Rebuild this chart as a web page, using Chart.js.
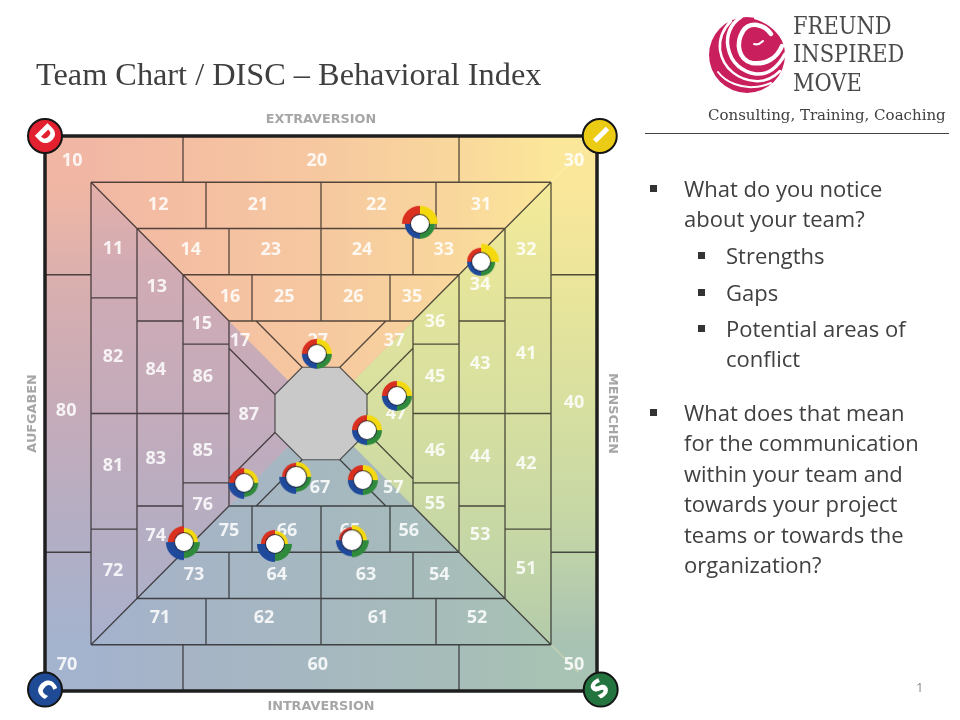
<!DOCTYPE html>
<html>
<head>
<meta charset="utf-8">
<title>Team Chart / DISC</title>
<script src="https://cdn.jsdelivr.net/npm/chart.js@4/dist/chart.umd.min.js"></script>
<style>
    html, body { margin: 0; padding: 0; background: #fff; }
    #page { position: relative; width: 960px; height: 720px; overflow: hidden; }
    #discChart { position: absolute; left: 0; top: 0; }
    .txt { position: absolute; white-space: nowrap; color: #404040; }
    #title { left: 36px; top: 54px; font: 32.3px/40px "Liberation Serif", serif; color: #3f3f3f; }
    .logo { left: 793px; font: 24px/28px "DejaVu Serif", serif; color: #4a4a4a; transform: scaleX(0.875); transform-origin: left center; }
    #tagline { left: 708px; top: 105px; font: 15px/20px "DejaVu Serif", serif; }
    #rule { position: absolute; left: 645px; top: 133px; width: 304px; height: 1px; background: #444; }
    .b { font: 22px/30px "Open Sans", sans-serif; }
    .sq { position: absolute; width: 7px; height: 7px; background: #333; }
    #pageNo { left: 916px; top: 679px; font: 13px/16px "Open Sans", sans-serif; color: #8c8c8c; }
    #logoMark { position: absolute; left: 700px; top: 8px; }
</style>
</head>
<body>
<div id="page">
    <canvas id="discChart" width="960" height="720"></canvas>
    <div class="txt" id="title">Team Chart / DISC – Behavioral Index</div>
    <svg id="logoMark" width="95" height="95" viewBox="700 8 95 95">
        <circle cx="747" cy="55" r="38" fill="#c91f5d"/>
        <path d="M754 14 L792 14 L792 52 L786 52 C784 38 772 24 754 19 Z" fill="#fff"/>
        <g fill="none" stroke="#fff" stroke-linecap="round">
            <path d="M771 34 C764 24 750 21 743 31 C735 44 739 60 752 63 C766 65 777 58 782 46" stroke-width="4.5"/>
            <path d="M741 17 C730 24 726 36 728 47 C731 64 743 72 756 74 C768 75 778 67 785 54" stroke-width="3.5"/>
            <path d="M731 21 C722 30 719 40 720 50 C723 70 740 80 755 81 C765 82 773 78 780 71" stroke-width="2.5"/>
            <path d="M718 72 C726 83 742 88 754 87 C760 87 766 85 771 83" stroke-width="2"/>
            <path d="M763 41 C760 44 757 45 754 44" stroke-width="2"/>
        </g>
    </svg>
    <div class="txt logo" style="top:12px">FREUND</div>
    <div class="txt logo" style="top:40px">INSPIRED</div>
    <div class="txt logo" style="top:69px">MOVE</div>
    <div class="txt" id="tagline">Consulting, Training, Coaching</div>
    <div id="rule"></div>

    <div class="sq" style="left:650px;top:185px"></div>
    <div class="txt b" style="left:684px;top:173px">What do you notice</div>
    <div class="txt b" style="left:684px;top:203px">about your team?</div>
    <div class="sq" style="left:698px;top:252px"></div>
    <div class="txt b" style="left:726px;top:240px">Strengths</div>
    <div class="sq" style="left:698px;top:289px"></div>
    <div class="txt b" style="left:726px;top:277px">Gaps</div>
    <div class="sq" style="left:698px;top:325px"></div>
    <div class="txt b" style="left:726px;top:313px">Potential areas of</div>
    <div class="txt b" style="left:726px;top:343px">conflict</div>
    <div class="sq" style="left:650px;top:409px"></div>
    <div class="txt b" style="left:684px;top:397px">What does that mean</div>
    <div class="txt b" style="left:684px;top:427px">for the communication</div>
    <div class="txt b" style="left:684px;top:458px">within your team and</div>
    <div class="txt b" style="left:684px;top:488px">towards your project</div>
    <div class="txt b" style="left:684px;top:519px">teams or towards the</div>
    <div class="txt b" style="left:684px;top:549px">organization?</div>
    <div class="txt" id="pageNo">1</div>
</div>

<script>
// cell numbers and where they sit on the -6..6 grid
const cellLabels = ['10','20','30','12','21','22','31','11','14','23','24','33','32','13','34','16','25','26','35','36','15','17','27','37','82','84','43','41','86','45','40','80','87','47','46','85','44','83','81','42','67','77','57','55','76','53','75','66','65','56','74','72','51','73','64','63','54','71','62','61','52','70','60','50'];
const cellX = [-5.41,-0.09,5.50,-3.54,-1.37,1.20,3.48,-4.52,-2.83,-1.09,0.89,2.67,4.46,-3.57,3.46,-1.98,-0.80,0.70,1.98,2.48,-2.59,-1.76,-0.07,1.59,-4.52,-3.59,3.46,4.46,-2.57,2.48,5.50,-5.54,-1.57,1.63,2.48,-2.57,3.46,-3.59,-4.52,4.46,-0.02,-0.57,1.57,2.48,-2.57,3.46,-2.00,-0.74,0.63,1.91,-3.59,-4.52,4.46,-2.76,-0.96,0.98,2.57,-3.50,-1.24,1.24,3.39,-5.52,-0.07,5.50];
const cellY = [5.46,5.46,5.46,4.51,4.51,4.51,4.51,3.56,3.54,3.54,3.54,3.54,3.54,2.74,2.78,2.52,2.52,2.52,2.52,1.98,1.94,1.57,1.57,1.57,1.22,0.94,1.07,1.29,0.79,0.79,0.23,0.05,-0.03,-0.01,-0.81,-0.81,-0.94,-0.98,-1.14,-1.09,-1.61,-1.42,-1.61,-1.96,-1.98,-2.63,-2.54,-2.54,-2.54,-2.54,-2.65,-3.41,-3.36,-3.49,-3.49,-3.49,-3.49,-4.42,-4.42,-4.42,-4.42,-5.44,-5.44,-5.44];

// team members: position and the four DISC scores (shown as ring thickness)
const teamX = [2.15,3.48,-0.09,1.65,1.00,0.91,-1.67,-0.54,-1.00,0.67,-2.98];
const teamY = [4.10,3.28,1.29,0.38,-0.36,-1.44,-1.50,-1.37,-2.82,-2.74,-2.78];
const teamD = [18,14,15,15,15,15,15,14,14,13,16];
const teamI = [18,18,15,15,15,15,14,15,13,15,14];
const teamS = [15,14,15,15,15,15,14,15,17,17,16];
const teamC = [15,14,15,15,15,15,16,17,18,16,18];
const teamHole = [9,9,9,9,9,9,9,10,9,10,9];

const cornerLetters = ['D','I','C','S'];
const cornerX = [-6, 6.06, -6, 6.08];
const cornerY = [6, 6, -5.97, -5.97];
const cornerColors = ['#e3202f','#eccb14','#1f4a96','#24743f'];
const cornerAngles = [45,45,45,-45];

// grid lines as x1,y1,x2,y2
const gridLines = [
    [-5,5,5,5],[5,5,5,-5],[5,-5,-5,-5],[-5,-5,-5,5],
    [-3,6,-3,5],[3,6,3,5],[-3,-6,-3,-5],[3,-6,3,-5],
    [-6,3,-5,3],[-6,-3,-5,-3],[5,3,6,3],[5,-3,6,-3],
    [-4,4,4,4],[-3,3,3,3],[-2,2,2,2],[-4,-4,4,-4],[-3,-3,3,-3],[-2,-2,2,-2],
    [-4,4,-4,-4],[-3,3,-3,-3],[-2,2,-2,-2],[4,4,4,-4],[3,3,3,-3],[2,2,2,-2],
    [-2.5,5,-2.5,4],[0,5,0,4],[2.5,5,2.5,4],[-2,4,-2,3],[0,4,0,3],[2,4,2,3],[-1.5,3,-1.5,2],[0,3,0,2],[1.5,3,1.5,2],
    [-2.5,-5,-2.5,-4],[0,-5,0,-4],[2.5,-5,2.5,-4],[-2,-4,-2,-3],[0,-4,0,-3],[2,-4,2,-3],[-1.5,-3,-1.5,-2],[0,-3,0,-2],[1.5,-3,1.5,-2],
    [-5,2.5,-4,2.5],[-5,0,-4,0],[-5,-2.5,-4,-2.5],[-4,2,-3,2],[-4,0,-3,0],[-4,-2,-3,-2],[-3,1.5,-2,1.5],[-3,0,-2,0],[-3,-1.5,-2,-1.5],
    [4,2.5,5,2.5],[4,0,5,0],[4,-2.5,5,-2.5],[3,2,4,2],[3,0,4,0],[3,-2,4,-2],[2,1.5,3,1.5],[2,0,3,0],[2,-1.5,3,-1.5],
    [-5,5,-2,2],[5,5,2,2],[-5,-5,-2,-2],[5,-5,2,-2],
    [-1.41,2,-0.41,1],[1.41,2,0.41,1],[-2,1.41,-1,0.41],[2,1.41,1,0.41],
    [-1.41,-2,-0.41,-1],[1.41,-2,0.41,-1],[-2,-1.41,-1,-0.41],[2,-1.41,1,-0.41]
];

const octagon = [[-0.41,1],[0.41,1],[1,0.41],[1,-0.41],[0.41,-1],[-0.41,-1],[-1,-0.41],[-1,0.41],[-0.41,1]];
const frame = [[-6,6],[6,6],[6,-6],[-6,-6],[-6,6]];

const topColors = ['#f0b4a5','#f4bea2','#f6c8a0','#f9d89c','#fdee98'];
const leftColors = ['#eeb2a4','#d0abb4','#c3abbb','#b3aec4','#a3b2d2'];
const rightColors = ['#fdee98','#e6e59b','#d6dfa0','#c4d6a6','#abc5ad'];
const bottomColors = ['#a3b2d2','#a6b4c6','#a5b8c0','#a7bdb9','#a8c5b0'];
const leftRingColors = ['#f1b7a4','#d6aeb0','#c5abb9','#b3aec4','#a4b3ce'];
const rightRingColors = ['#fbe79a','#e8e59b','#d6dfa0','#c4d6a6','#a8c2b3'];

const toPoints = list => list.map(p => ({ x: p[0], y: p[1] }));

function gradientFill(x0, y0, x1, y1, colors) {
    return ctx => {
        const chart = ctx.chart;
        if (!chart.chartArea) return colors[0];
        const sx = chart.scales.x, sy = chart.scales.y;
        const g = chart.ctx.createLinearGradient(sx.getPixelForValue(x0), sy.getPixelForValue(y0), sx.getPixelForValue(x1), sy.getPixelForValue(y1));
        colors.forEach((c, i) => g.addColorStop(i / (colors.length - 1), c));
        return g;
    };
}

function region(points, fill, order) {
    return {
        type: 'line', data: toPoints(points), fill: 'shape', backgroundColor: fill,
        borderWidth: 0, borderColor: 'rgba(0,0,0,0)', pointRadius: 0, tension: 0, order: order, clip: false
    };
}

// ring marker with four quadrants, each as long as its score
function makeMarker(d, i, s, c, hole) {
    const half = Math.max(d, i, s, c) + 2;
    const cv = document.createElement('canvas');
    cv.width = cv.height = half * 2;
    const g = cv.getContext('2d');
    const parts = [[d, Math.PI, '#d9301f'], [i, 1.5 * Math.PI, '#f5d90f'], [s, 0, '#2f8a3c'], [c, 0.5 * Math.PI, '#1f4a9c']];
    parts.forEach(p => {
        g.beginPath();
        g.moveTo(half, half);
        g.arc(half, half, p[0], p[1], p[1] + Math.PI / 2);
        g.closePath();
        g.fillStyle = p[2];
        g.fill();
    });
    g.beginPath();
    g.arc(half, half, hole + 1, 0, Math.PI * 2);
    g.fillStyle = 'rgba(25,25,45,0.75)';
    g.fill();
    g.beginPath();
    g.arc(half, half, hole, 0, Math.PI * 2);
    g.fillStyle = '#fff';
    g.fill();
    return cv;
}

const markerStyles = teamX.map((_, k) => makeMarker(teamD[k], teamI[k], teamS[k], teamC[k], teamHole[k]));

// numbers go under the team rings, letters on top of the corner badges
const cellText = {
    id: 'cellText',
    beforeDatasetDraw(chart, args) {
        if (args.meta.label !== 'Team') return;
        const c = chart.ctx, sx = chart.scales.x, sy = chart.scales.y;
        c.save();
        c.font = '700 18px "Open Sans", sans-serif';
        c.fillStyle = 'rgba(255,255,255,0.85)';
        c.textAlign = 'center';
        c.textBaseline = 'middle';
        cellLabels.forEach((t, k) => c.fillText(t, sx.getPixelForValue(cellX[k]), sy.getPixelForValue(cellY[k])));
        c.restore();
    },
    afterDatasetsDraw(chart) {
        const c = chart.ctx, sx = chart.scales.x, sy = chart.scales.y;
        cornerLetters.forEach((t, k) => {
            c.save();
            c.translate(sx.getPixelForValue(cornerX[k]), sy.getPixelForValue(cornerY[k]));
            c.rotate(cornerAngles[k] * Math.PI / 180);
            c.font = '800 25px "Open Sans", sans-serif';
            c.fillStyle = '#fff';
            c.textAlign = 'center';
            c.textBaseline = 'middle';
            c.fillText(t, 0, 0);
            c.restore();
        });
    }
};

function axisTitle(text, pad) {
    return { display: true, text: text, color: '#a6a6a6', font: { family: 'DejaVu Sans', size: 12.8, weight: 'bold' }, padding: pad };
}

function hiddenAxis(position, axisSize, text, pad) {
    return {
        type: 'linear', position: position, min: -6, max: 6,
        ticks: { display: false }, grid: { display: false }, border: { display: false },
        title: axisTitle(text, pad),
        afterFit(axis) {
            if (position === 'top' || position === 'bottom') axis.height = axisSize;
            else axis.width = axisSize;
        }
    };
}

new Chart(document.getElementById('discChart'), {
    type: 'line',
    data: {
        datasets: [
            {
                label: 'Team', data: teamX.map((x, k) => ({ x: x, y: teamY[k] })), showLine: false,
                pointStyle: markerStyles, pointRadius: 15, order: 0, clip: false
            },
            {
                label: 'Corners', data: cornerX.map((x, k) => ({ x: x, y: cornerY[k] })), showLine: false,
                pointStyle: 'circle', pointRadius: 17, pointBackgroundColor: cornerColors,
                pointBorderColor: '#151515', pointBorderWidth: 2, order: 1, clip: false
            },
            {
                label: 'Frame', data: toPoints(frame), borderColor: '#1f1f1f', borderWidth: 3.5,
                pointRadius: 0, tension: 0, order: 2, clip: false, fill: false
            },
            {
                label: 'Cells', data: gridLines.flatMap(s => [{ x: s[0], y: s[1] }, { x: s[2], y: s[3] }, { x: NaN, y: NaN }]),
                borderColor: 'rgba(30,25,25,0.75)', borderWidth: 1.3, pointRadius: 0, tension: 0, spanGaps: false, order: 3, clip: false, fill: false
            },
            {
                label: 'Centre', data: toPoints(octagon), fill: 'shape', backgroundColor: '#c9c9c9',
                borderColor: 'rgba(30,30,30,0.7)', borderWidth: 1.2, pointRadius: 0, tension: 0, order: 4, clip: false
            },
            {
                label: 'Glow', data: [{ x: 5, y: 5 }, { x: 5.7, y: 5.7 }, { x: NaN, y: NaN }, { x: 5, y: -5 }, { x: 5.6, y: -5.6 }],
                borderColor: 'rgba(255,248,190,0.3)', borderWidth: 1.5, pointRadius: 0, order: 5, clip: false, fill: false
            },
            region([[-6,6],[-5,6],[-5,5],[-6,5]], '#f1b7a4', 6),
            region([[6,6],[5,6],[5,5],[6,5]], '#fbe79a', 6),
            region([[-6,-6],[-5,-6],[-5,-5],[-6,-5]], '#a4b3ce', 6),
            region([[6,-6],[5,-6],[5,-5],[6,-5]], '#a8c2b3', 6),
            region([[-6,5],[-5,5],[-5,-5],[-6,-5]], gradientFill(0, 5, 0, -5, leftRingColors), 6),
            region([[6,5],[5,5],[5,-5],[6,-5]], gradientFill(0, 5, 0, -5, rightRingColors), 6),
            region([[-6,6],[6,6],[0,0]], gradientFill(-6, 0, 6, 0, topColors), 7),
            region([[-6,6],[-6,-6],[0,0]], gradientFill(0, 6, 0, -6, leftColors), 7),
            region([[6,6],[6,-6],[0,0]], gradientFill(0, 6, 0, -6, rightColors), 7),
            region([[-6,-6],[6,-6],[0,0]], gradientFill(-6, 0, 6, 0, bottomColors), 7),
            region(frame, '#c6b8b4', 8)
        ]
    },
    options: {
        responsive: false,
        animation: false,
        events: [],
        layout: { padding: 0 },
        plugins: { legend: { display: false }, tooltip: { enabled: false } },
        scales: {
            x: hiddenAxis('bottom', 29, 'INTRAVERSION', { top: 0, bottom: 6 }),
            x2: hiddenAxis('top', 136, 'EXTRAVERSION', { top: 112, bottom: 0 }),
            y: hiddenAxis('left', 45, 'AUFGABEN', { top: 25, bottom: 0 }),
            y2: hiddenAxis('right', 363, 'MENSCHEN', { top: 340, bottom: 0 })
        }
    },
    plugins: [cellText]
});
</script>
</body>
</html>
